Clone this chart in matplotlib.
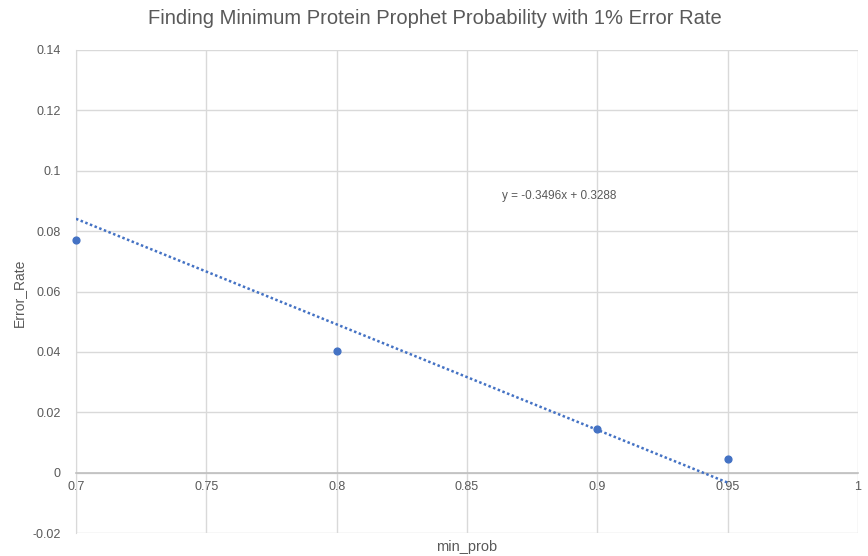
import matplotlib
matplotlib.use('Agg')
import matplotlib.pyplot as plt
import numpy as np

# data
min_prob = [0.7, 0.8, 0.9, 0.95]
error_rate = [0.0772, 0.0404, 0.0143, 0.0046]
slope, intercept = -0.3496, 0.3288

plt.rcParams['font.family'] = ['Liberation Sans', 'DejaVu Sans']

fig = plt.figure(figsize=(8.68, 5.56), dpi=100)
ax = fig.add_axes([76 / 868, 1 - 533 / 556, (858 - 76) / 868, (533 - 50) / 556])

blue = '#4472C4'
grid = '#d9d9d9'
txt = '#595959'

ax.scatter(min_prob, error_rate, s=24, color=blue, zorder=4, clip_on=False)
xs = np.array([min(min_prob), max(min_prob)])
ax.plot(xs, slope * xs + intercept, color=blue, lw=1.8, ls=(0, (1, 1)), zorder=3)

ax.set_xlim(0.7, 1.0)
ax.set_ylim(-0.02, 0.14)
ax.set_xticks([0.7, 0.75, 0.8, 0.85, 0.9, 0.95, 1.0])
ax.set_xticklabels(['0.7', '0.75', '0.8', '0.85', '0.9', '0.95', '1'])
ax.set_yticks([-0.02, 0, 0.02, 0.04, 0.06, 0.08, 0.1, 0.12, 0.14])
ax.set_yticklabels(['-0.02', '0', '0.02', '0.04', '0.06', '0.08', '0.1', '0.12', '0.14'])
ax.grid(True, color=grid, lw=1)
ax.set_axisbelow(True)

for s in ['top', 'right']:
    ax.spines[s].set_visible(False)
ax.spines['left'].set_color(grid)
ax.spines['bottom'].set_position(('data', 0))
ax.spines['bottom'].set_color('#bfbfbf')
ax.spines['bottom'].set_linewidth(1.2)
ax.tick_params(length=0, labelsize=9, labelcolor=txt)
ax.tick_params(axis='x', pad=6)
ax.tick_params(axis='y', pad=11)

fig.text(435 / 868, 1 - 18 / 556, 'Finding Minimum Protein Prophet Probability with 1% Error Rate',
         ha='center', va='center', fontsize=14.5, color=txt)
fig.text(467 / 868, 1 - 547 / 556, 'min_prob', ha='center', va='center', fontsize=10.5, color=txt)
fig.text(19 / 868, 1 - 293 / 556, 'Error_Rate', ha='center', va='center', rotation=90,
         fontsize=10, color=txt)
ax.text(0.8635, 0.0915, 'y = -0.3496x + 0.3288', fontsize=8.5, color=txt, ha='left', va='center')

fig.savefig('out.png', dpi=100)
